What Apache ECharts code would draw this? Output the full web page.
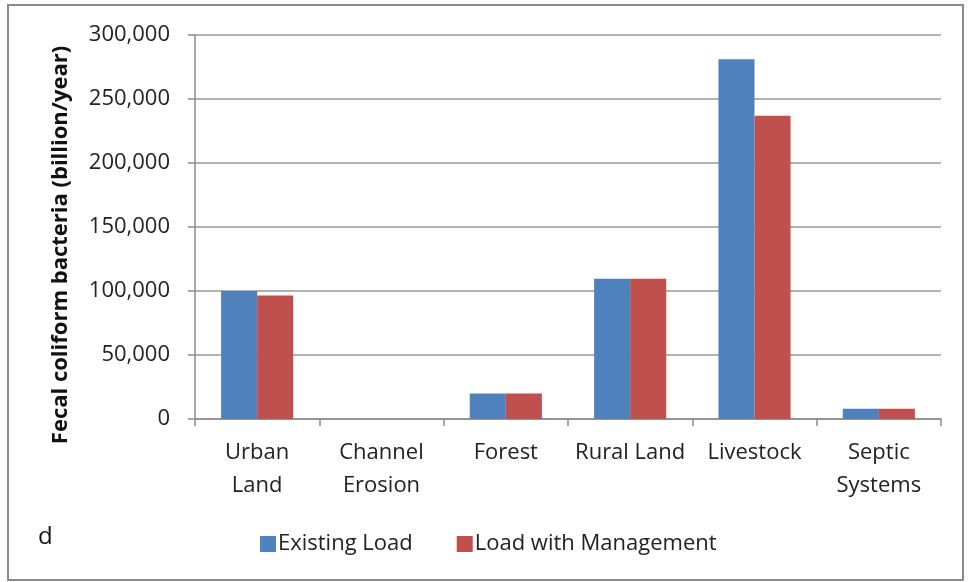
<!DOCTYPE html>
<html>
<head>
<meta charset="utf-8">
<script src="https://cdn.jsdelivr.net/npm/echarts@6/dist/echarts.min.js"></script>
<style>html,body{margin:0;padding:0;background:#fff}#c{width:968px;height:582px}</style>
</head>
<body>
<div id="c"></div>
<script>
const categories = ['Urban\nLand', 'Channel\nErosion', 'Forest', 'Rural Land', 'Livestock', 'Septic\nSystems'];
const existingLoad = [100000, 0, 20000, 109500, 281000, 8000];
const loadWithManagement = [96500, 0, 20000, 109500, 237000, 8000];
const seriesNames = ['Existing Load', 'Load with Management'];
const yAxisTitle = 'Fecal coliform bacteria (billion/year)';
const panelLetter = 'd';

const FONT = 'Open Sans';
const chart = echarts.init(document.getElementById('c'), null, {renderer: 'canvas'});
chart.setOption({
  animation: false,
  backgroundColor: '#fff',
  textStyle: {fontFamily: FONT},
  grid: {left: 195, right: 27, top: 35, bottom: 163, containLabel: false},
  legend: {
    data: seriesNames,
    left: 255, top: 528,
    itemWidth: 16, itemHeight: 16, itemGap: 44,
    icon: 'rect',
    textStyle: {fontFamily: FONT, fontSize: 22, color: '#222', padding: [0,0,0,-3]}
  },
  xAxis: {
    type: 'category',
    data: categories,
    axisLine: {lineStyle: {color: '#8c8c8c', width: 1.5}},
    axisTick: {show: true, length: 7, interval: 0, lineStyle: {color: '#8c8c8c', width: 1.5}},
    axisLabel: {interval: 0, fontSize: 22, color: '#222', lineHeight: 33, margin: 17, fontFamily: FONT}
  },
  yAxis: {
    type: 'value',
    min: 0, max: 300000, interval: 50000,
    name: yAxisTitle,
    nameLocation: 'middle',
    nameGap: 123,
    nameRotate: 90,
    nameTextStyle: {fontSize: 22, fontWeight: 'bold', color: '#111', fontFamily: FONT, padding: [0, 36, 0, 0]},
    axisLine: {show: true, lineStyle: {color: '#8c8c8c', width: 1.5}},
    axisTick: {show: true, length: 7, lineStyle: {color: '#8c8c8c', width: 1.5}},
    splitLine: {lineStyle: {color: '#999', width: 1.5}},
    axisLabel: {fontSize: 22, color: '#222', margin: 25, fontFamily: FONT,
      formatter: v => v.toLocaleString('en-US')}
  },
  series: [
    {name: seriesNames[0], type: 'bar', data: existingLoad, barGap: '0%', barCategoryGap: '42%',
     itemStyle: {color: '#4f81bd'}},
    {name: seriesNames[1], type: 'bar', data: loadWithManagement, barGap: '0%', barCategoryGap: '42%',
     itemStyle: {color: '#c0504d'}}
  ],
  graphic: [
    {type: 'rect', shape: {x: 8, y: 5, width: 955, height: 575}, style: {fill: 'none', stroke: '#8a8a8a', lineWidth: 2}, silent: true},
    {type: 'text', left: 38, top: 525, style: {text: panelLetter, fontSize: 24, fill: '#111', fontFamily: FONT}}
  ]
});
</script>
</body>
</html>
